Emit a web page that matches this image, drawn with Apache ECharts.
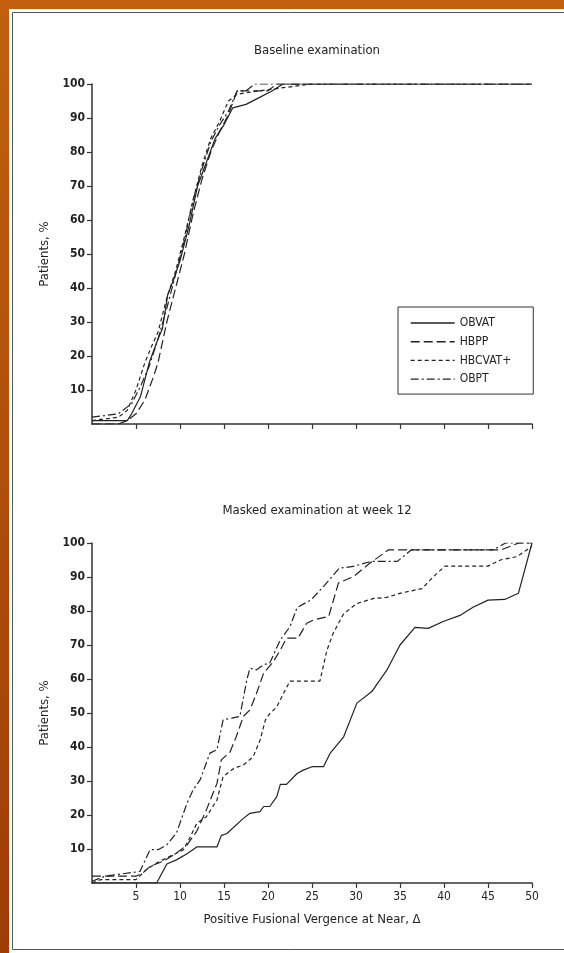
<!DOCTYPE html>
<html><head><meta charset="utf-8">
<script src="https://cdn.jsdelivr.net/npm/echarts@6/dist/echarts.min.js"></script>
<style>html,body{margin:0;padding:0;}#c{width:564px;height:953px;}</style>
</head><body><div id="c"></div>
<script>
var seriesNames = ['OBVAT', 'HBPP', 'HBCVAT+', 'OBPT'];
var xTicks = [5, 10, 15, 20, 25, 30, 35, 40, 45, 50];
var yTicks = [10, 20, 30, 40, 50, 60, 70, 80, 90, 100];
var titles = ['Baseline examination', 'Masked examination at week 12'];

// Baseline examination
var baseOBVAT = [[0,1],[4,1],[4.5,3],[5.5,8],[6.5,18],[7.5,25],[8,28],[8.6,38],[9.2,42],[10,48],[11,58],[12,70],[13,77],[14,84],[15,88],[16,93],[17.5,94],[19,96],[20.5,98],[21.7,100],[50,100]];
var baseHBPP = [[0,0],[3,0],[4,1],[5,3],[6,7],[7,14],[7.5,18],[8.5,30],[9.5,40],[10.5,50],[11.5,62],[12.5,72],[13.5,80],[14.5,86],[15.5,91],[16.5,98],[20,98],[21,100],[50,100]];
var baseHBCVAT = [[0,1],[3,2],[4,4],[5,10],[6,18],[6.8,23],[7.5,27],[8.5,37],[9.5,45],[10.5,55],[11.5,66],[12.5,76],[13.5,84],[14.5,89],[15.5,95],[16.5,97],[19,98],[22,99],[25,100],[50,100]];
var baseOBPT = [[0,2],[3,3],[4.5,6],[5.5,11],[6.5,17],[7.5,25],[8.5,34],[9.5,44],[10.5,54],[11.5,66],[12.5,75],[13.5,83],[14.5,88],[15.5,92],[16.5,98],[17.5,98],[18.5,100],[50,100]];

// Masked examination at week 12
var wk12OBVAT = [[0,0],[7.35,0],[8.5,5.6],[9.6,6.8],[10.8,8.6],[11.9,10.6],[14.2,10.6],[14.7,14],[15.3,14.5],[17.2,19],[17.95,20.5],[19.1,21],[19.5,22.5],[20.2,22.5],[21,25.4],[21.4,29],[22.1,29],[23.3,32.2],[24,33.2],[25,34.2],[26.3,34.2],[27.05,38.1],[28.6,43],[30.1,52.9],[31.8,56.3],[33.5,62.6],[35,70],[36.7,75.2],[38.2,74.9],[39.9,76.9],[41.9,78.8],[43.3,81.1],[45,83.2],[46.9,83.4],[48.45,85.2],[50,100]];
var wk12HBPP = [[0,2],[1.3,2],[5,2],[5.8,3],[6.6,4.9],[8.1,6.4],[9.6,8.8],[10.8,11.2],[11.9,15.2],[13,21.5],[14.2,29.3],[14.7,36.2],[15.7,38.6],[16.4,43.1],[17.2,49],[17.95,50.9],[18.7,55.8],[19.5,61.7],[20.6,65.1],[21.4,68.5],[22.1,72],[23.4,72],[24.4,76.4],[25.2,77.4],[26.9,78.4],[28,88.2],[29.7,90.1],[31.6,94.1],[33.7,98],[46.5,98],[48.5,100],[50,100]];
var wk12HBCVAT = [[0,0],[1,1],[5,1],[6.2,4],[7.35,5.9],[8.9,7.9],[10.4,9.8],[11.1,13.2],[11.9,17.5],[13,19.5],[14.2,24.4],[14.9,31.3],[16.1,33.7],[17.2,34.7],[18.3,37.1],[19.1,42],[19.7,47.9],[20.2,49.8],[21,51.8],[21.75,55.7],[22.5,59.4],[25.9,59.4],[26.7,68.5],[27.4,73.4],[28.6,79.2],[30.1,82.2],[32,83.7],[33.5,84],[35,85.2],[37.5,86.6],[38.8,90.1],[40.1,93.2],[45,93.2],[46.4,95],[48.3,96],[50,99]];
var wk12OBPT = [[0,0.5],[1.5,2],[5.45,3.4],[6.6,9.8],[7.5,9.8],[8.5,11.2],[9.6,14.7],[10.8,23.5],[11.5,27.4],[12.3,30.4],[13.4,38.2],[14.2,39.2],[14.9,48],[15.9,48.5],[16.8,49],[17.6,59.8],[17.95,63.2],[18.7,62.7],[19.5,64.2],[20.2,64.7],[21.4,71.5],[22.5,75.4],[23.3,81],[24.9,83.3],[26.3,87.2],[28.1,92.6],[29.7,93.1],[31.7,94.6],[34.7,94.6],[36.3,98],[45.6,98],[47,100],[50,100]];

var FONT = "'Liberation Sans Narrow','DejaVu Sans Condensed','Liberation Sans',sans-serif";
var INK = '#222';
var lineTypes = ['solid', [9, 4], [4, 3], [8, 3, 2, 3]];
var baseData = [baseOBVAT, baseHBPP, baseHBCVAT, baseOBPT];
var wk12Data = [wk12OBVAT, wk12HBPP, wk12HBCVAT, wk12OBPT];

function xAxisFor(gi, showLabels) {
  return {
    gridIndex: gi, type: 'value', min: 0, max: 50, interval: 5,
    splitLine: {show: false},
    axisLine: {show: true, onZero: false, lineStyle: {color: '#333', width: 1.5}},
    axisTick: {show: true, length: 5, customValues: xTicks, lineStyle: {color: '#333', width: 1.2}},
    axisLabel: {show: showLabels, customValues: xTicks, color: INK, fontFamily: FONT, fontSize: 12, margin: 8},
    name: showLabels ? 'Positive Fusional Vergence at Near, \u0394' : '',
    nameLocation: 'middle', nameGap: 30,
    nameTextStyle: {color: INK, fontFamily: FONT, fontSize: 13}
  };
}
function yAxisFor(gi) {
  return {
    gridIndex: gi, type: 'value', min: 0, max: 100, interval: 10,
    splitLine: {show: false},
    axisLine: {show: true, onZero: false, lineStyle: {color: '#333', width: 1.5}},
    axisTick: {show: true, length: 5, customValues: yTicks, lineStyle: {color: '#333', width: 1.2}},
    axisLabel: {customValues: yTicks, color: INK, fontFamily: FONT, fontSize: 12, fontWeight: 'bold', margin: 7},
    name: 'Patients, %', nameLocation: 'middle', nameGap: 38, nameRotate: 90,
    nameTextStyle: {color: INK, fontFamily: FONT, fontSize: 13}
  };
}
var series = [];
[baseData, wk12Data].forEach(function (set, gi) {
  set.forEach(function (d, i) {
    series.push({
      name: seriesNames[i], type: 'line', xAxisIndex: gi, yAxisIndex: gi,
      data: d, symbol: 'none', animation: false,
      itemStyle: {color: INK},
      lineStyle: {color: INK, width: 1.2, type: lineTypes[i]}
    });
  });
});

var chart = echarts.init(document.getElementById('c'));
chart.setOption({
  backgroundColor: {type: 'linear', x: 0, y: 0, x2: 0, y2: 1,
    colorStops: [{offset: 0, color: '#c0600e'}, {offset: 1, color: '#a03c06'}]},
  graphic: [
    {type: 'rect', shape: {x: 9, y: 9, width: 560, height: 945}, style: {fill: '#fff'}, z: -10},
    {type: 'rect', shape: {x: 12.5, y: 12.5, width: 560, height: 937}, style: {fill: 'none', stroke: '#555', lineWidth: 1}, z: -9}
  ],
  title: [
    {text: titles[0], left: 312, top: 39, textAlign: 'center', textStyle: {color: INK, fontFamily: FONT, fontSize: 13, fontWeight: 'normal'}},
    {text: titles[1], left: 312, top: 499, textAlign: 'center', textStyle: {color: INK, fontFamily: FONT, fontSize: 13, fontWeight: 'normal'}}
  ],
  legend: {
    data: seriesNames, orient: 'vertical', left: 398, top: 307,
    borderColor: '#333', borderWidth: 1, borderRadius: 0,
    padding: [10, 22, 9, 12], itemWidth: 44, itemHeight: 10, itemGap: 6.7, itemTextGap: 5,
    itemStyle: {opacity: 0},
    lineStyle: {color: INK, width: 1.4},
    textStyle: {color: INK, fontFamily: FONT, fontSize: 12}
  },
  grid: [
    {left: 92, right: 32, top: 84, height: 340},
    {left: 92, right: 32, top: 543, height: 340}
  ],
  xAxis: [xAxisFor(0, false), xAxisFor(1, true)],
  yAxis: [yAxisFor(0), yAxisFor(1)],
  series: series
});
</script>
</body></html>
